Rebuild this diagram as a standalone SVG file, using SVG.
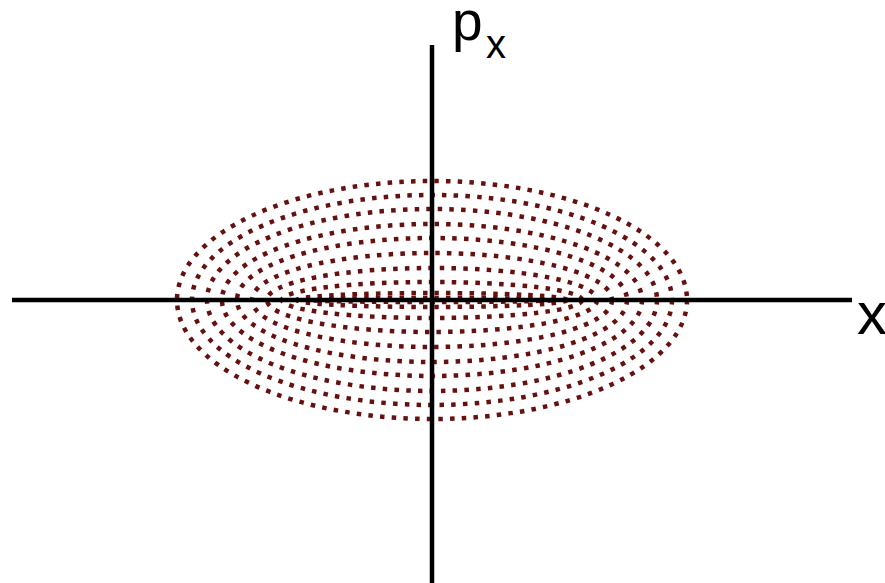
<svg xmlns="http://www.w3.org/2000/svg" width="885" height="583" viewBox="0 0 885 583">
<style>
.e{fill:none;stroke:#661010;stroke-width:4.5;stroke-dasharray:4.5 7.2}
.ax{stroke:#000;stroke-width:4.5;fill:none}
.t{font-family:"Liberation Sans",Arial,sans-serif;fill:#000}
</style>
<rect width="885" height="583" fill="#fff"/>
<g id="ellipses">
<ellipse class="e" cx="432" cy="300" rx="255" ry="119"/>
<ellipse class="e" cx="432" cy="300" rx="240" ry="105"/>
<ellipse class="e" cx="432" cy="300" rx="225" ry="91"/>
<ellipse class="e" cx="432" cy="300" rx="210" ry="76"/>
<ellipse class="e" cx="432" cy="300" rx="195" ry="62"/>
<ellipse class="e" cx="432" cy="300" rx="180" ry="47"/>
<ellipse class="e" cx="432" cy="300" rx="165" ry="32"/>
<ellipse class="e" cx="432" cy="300" rx="150" ry="18"/>
<ellipse class="e" cx="432" cy="300" rx="135" ry="7"/>
<ellipse class="e" cx="432" cy="300" rx="120" ry="2"/>
</g>
<g id="connectors">
<line class="ax" x1="12" y1="300" x2="852" y2="300"/>
<line class="ax" x1="432" y1="45" x2="432" y2="583"/>
</g>
<g id="label-px">
<text class="t" x="452" y="40" font-size="55">p</text>
<text class="t" x="486" y="58" font-size="40">x</text>
</g>
<g id="label-x">
<text class="t" x="857" y="334" font-size="60">x</text>
</g>
</svg>
